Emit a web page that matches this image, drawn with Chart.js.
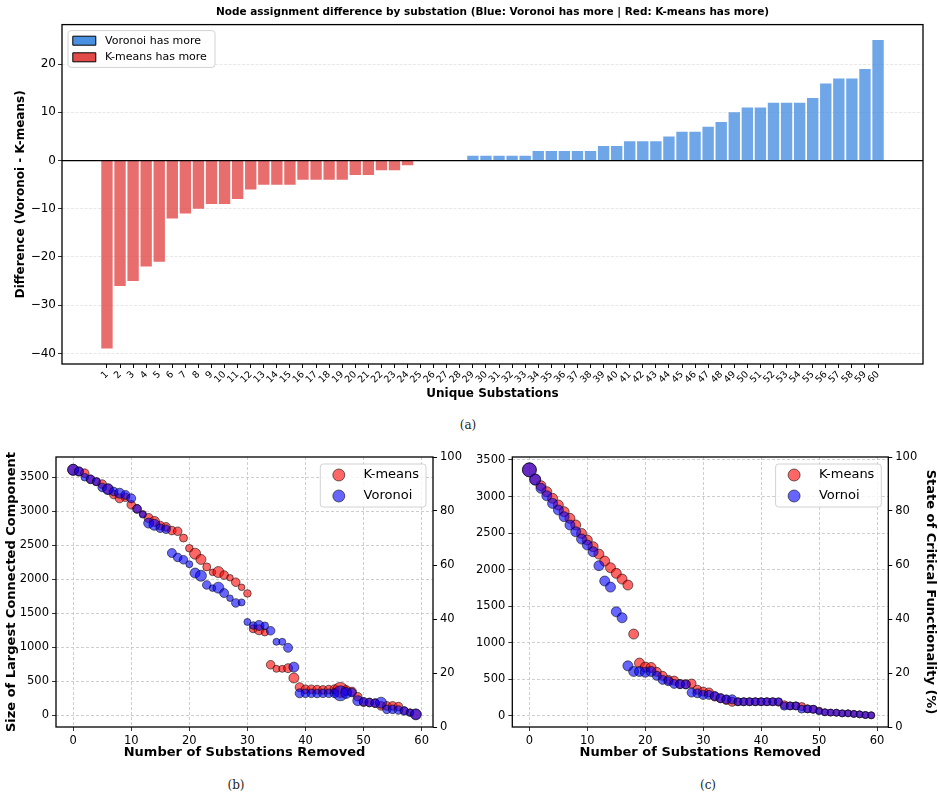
<!DOCTYPE html>
<html>
<head>
<meta charset="utf-8">
<script src="https://cdn.jsdelivr.net/npm/chart.js@4.4.1/dist/chart.umd.min.js"></script>
<style>
  body { margin: 0; background: #fff; width: 938px; height: 799px; position: relative; overflow: hidden; }
  canvas { position: absolute; }
  #chartA { left: 0; top: 0; }
  #chartB { left: 0; top: 440px; }
  #chartC { left: 469px; top: 440px; }
  .caption { position: absolute; font-family: "DejaVu Serif", "Liberation Serif", serif; font-size: 12px; color: #222; transform: translate(-50%, -50%); }
</style>
</head>
<body>
<canvas id="chartA" width="938" height="405"></canvas>
<div class="caption" style="left:468px; top:425px">(a)</div>
<canvas id="chartB" width="469" height="330"></canvas>
<canvas id="chartC" width="469" height="330"></canvas>
<div class="caption" style="left:236px; top:785px">(b)</div>
<div class="caption" style="left:708px; top:785px">(c)</div>
<script>
Chart.defaults.font.family = '"DejaVu Sans", sans-serif';
Chart.defaults.color = '#000';

// (a) difference in assigned nodes per substation
const substations = Array.from({ length: 60 }, (_, i) => i + 1);
const nodeDiff = [-39, -26, -25, -22, -21, -12, -11, -10, -9, -9, -8, -6, -5, -5, -5, -4, -4, -4, -4, -3,
                  -3, -2, -2, -1, 0, 0, 0, 0, 1, 1, 1, 1, 1, 2, 2, 2, 2, 2, 3, 3,
                  4, 4, 4, 5, 6, 6, 7, 8, 10, 11, 11, 12, 12, 12, 13, 16, 17, 17, 19, 25];
const diffTicks = [-40, -30, -20, -10, 0, 10, 20];

// (b) size of largest connected component
const removedSteps = Array.from({ length: 60 }, (_, i) => i);
const lccKmeans = [3610, 3585, 3560, 3470, 3435, 3400, 3325, 3245, 3190, 3205,
                   3095, 3035, 2960, 2900, 2850, 2790, 2770, 2715, 2705, 2605,
                   2455, 2375, 2290, 2180, 2100, 2105, 2060, 2020, 1955, 1880,
                   1790, 1270, 1255, 1215, 740, 680, 680, 690, 545, 410,
                   380, 380, 375, 370, 375, 380, 370, 360, 345, 270,
                   190, 185, 175, 135, 135, 135, 125, 65, 40, 10];
const lccKmeansSize = [5.5, 4.5, 4.3, 4.3, 4, 4.3, 5, 4.3, 4.5, 4.3,
                       4.3, 4.3, 3.5, 4.5, 5, 4.3, 4.3, 4.3, 4.3, 4,
                       3.8, 5.5, 5, 4, 3.3, 5.5, 4.3, 3.3, 4.3, 3.3,
                       3.8, 4, 5, 3.5, 4.3, 3.5, 3.5, 4.5, 5, 4.5,
                       4.3, 4.3, 4.3, 4.3, 4.3, 4.5, 7.5, 5, 4.5, 4.3,
                       4.3, 4.3, 4.3, 4.3, 4.3, 4.3, 4.3, 3.8, 3.5, 5];
const lccVoronoi = [3610, 3585, 3500, 3470, 3435, 3350, 3325, 3290, 3265, 3240,
                    3190, 3035, 2950, 2825, 2800, 2750, 2735, 2385, 2320, 2285,
                    2220, 2090, 2050, 1915, 1868, 1875, 1795, 1720, 1650, 1658,
                    1370, 1318, 1318, 1314, 1240, 1078, 1078, 990, 705, 320,
                    320, 320, 318, 320, 320, 322, 320, 325, 330, 212,
                    195, 185, 175, 182, 84, 84, 74, 60, 34, 10];
const lccVoronoiSize = [5.5, 4.5, 3.8, 4.3, 4, 4.3, 5.5, 4.3, 5, 4.5,
                        4.5, 4.3, 3.5, 5, 5.5, 4.3, 4.3, 4.5, 4.3, 4.3,
                        3.5, 5, 5.5, 4.3, 3.3, 5.5, 4.5, 3.3, 4.3, 3.5,
                        3.5, 3.8, 5, 3.8, 4.3, 3.5, 3.5, 4.5, 5, 4.5,
                        4.3, 4.3, 4.3, 4.3, 4.3, 4.5, 7.5, 5.5, 4.3, 5,
                        4.3, 4.3, 4.3, 5.5, 4.3, 4.3, 4.3, 4.3, 3.8, 5.5];

// (c) state of critical functionality
const cfKmeans = [3365, 3235, 3148, 3066, 2975, 2884, 2792, 2701, 2610, 2495,
                  2404, 2313, 2212, 2116, 2025, 1948, 1870, 1788, 1117, 720,
                  665, 660, 600, 545, 490, 480, 435, 430, 440, 355,
                  330, 318, 262, 240, 215, 190, 190, 190, 190, 190,
                  190, 190, 190, 185, 150, 135, 135, 125, 95, 88,
                  70, 48, 42, 40, 34, 32, 25, 18, 10, 5];
const cfKmeansSize = [7, 5.5, 5, 5, 5, 5, 5, 5, 5, 5,
                      5, 5, 5, 5, 5, 5, 5, 5, 5, 5,
                      5, 5, 4.5, 4.5, 4.5, 4.5, 4.5, 4.5, 4.5, 4.5,
                      4.5, 4.5, 4.5, 4.5, 4.5, 4.5, 4, 4, 4, 4,
                      4, 4, 4, 4, 4, 4, 4, 4, 4, 4,
                      3.5, 3.5, 3.5, 3.5, 3.5, 3.5, 3.5, 3.5, 3.5, 3.5];
const cfVoronoi = [3365, 3230, 3112, 3011, 2906, 2815, 2724, 2610, 2518, 2418,
                   2336, 2244, 2053, 1843, 1760, 1422, 1340, 682, 605, 605,
                   595, 605, 545, 490, 472, 435, 430, 428, 316, 307,
                   284, 284, 270, 238, 224, 224, 192, 192, 192, 192,
                   192, 192, 192, 192, 130, 133, 133, 90, 92, 87,
                   60, 46, 42, 41, 30, 32, 23, 18, 9, 5];
const cfVoronoiSize = [7, 5.5, 5, 5, 5, 5, 5, 5, 5, 5,
                       5, 5, 5, 5, 5, 5, 5, 5, 5, 5,
                       5, 5, 4.5, 4.5, 4.5, 4.5, 4.5, 4.5, 4.5, 4.5,
                       4.5, 4.5, 4.5, 4.5, 4.5, 4.5, 4, 4, 4, 4,
                       4, 4, 4, 4, 4, 4, 4, 4, 4, 4,
                       3.5, 3.5, 3.5, 3.5, 3.5, 3.5, 3.5, 3.5, 3.5, 3.5];

const stepTicks = [0, 10, 20, 30, 40, 50, 60];
const countTicks = [0, 500, 1000, 1500, 2000, 2500, 3000, 3500];
const pctTicks = [0, 20, 40, 60, 80, 100];

const RED = 'rgba(255, 0, 0, 0.6)';
const BLUE = 'rgba(0, 0, 255, 0.6)';
const EDGE = 'rgba(0, 0, 0, 0.55)';

const fixTicks = values => scale => { scale.ticks = values.map(v => ({ value: v })); };
const minusFmt = v => v < 0 ? '\u2212' + Math.abs(v) : String(v);

// black box round the plot area
const axesFrame = {
    id: 'axesFrame',
    afterDatasetsDraw(chart) {
        const { ctx, chartArea: a } = chart;
        ctx.save();
        ctx.strokeStyle = '#000';
        ctx.lineWidth = 1.3;
        ctx.strokeRect(a.left, a.top, a.right - a.left, a.bottom - a.top);
        ctx.restore();
    }
};

const zeroLine = {
    id: 'zeroLine',
    afterDatasetsDraw(chart) {
        const { ctx, chartArea: a, scales } = chart;
        const y = scales.y.getPixelForValue(0);
        ctx.save();
        ctx.strokeStyle = '#000';
        ctx.lineWidth = 1.2;
        ctx.beginPath();
        ctx.moveTo(a.left, y);
        ctx.lineTo(a.right, y);
        ctx.stroke();
        ctx.restore();
    }
};

// legend in a framed box inside the plot, like matplotlib's
const boxLegend = {
    id: 'boxLegend',
    afterDatasetsDraw(chart, args, opts) {
        const { ctx, chartArea: area } = chart;
        const sets = chart.data.datasets;
        const x0 = opts.side === 'left' ? area.left + opts.inset : area.right - opts.inset - opts.width;
        const y0 = area.top + opts.inset;
        const h = opts.padY * 2 + opts.rowHeight * sets.length;
        ctx.save();
        ctx.beginPath();
        if (ctx.roundRect) ctx.roundRect(x0, y0, opts.width, h, 3);
        else ctx.rect(x0, y0, opts.width, h);
        ctx.fillStyle = 'rgba(255,255,255,0.8)';
        ctx.fill();
        ctx.strokeStyle = '#d2d2d2';
        ctx.lineWidth = 1;
        ctx.stroke();
        ctx.font = opts.fontSize + 'px "DejaVu Sans"';
        ctx.textBaseline = 'middle';
        ctx.textAlign = 'left';
        sets.forEach((ds, i) => {
            const cy = y0 + opts.padY + opts.rowHeight * (i + 0.5);
            const mx = x0 + opts.markerX;
            ctx.beginPath();
            if (opts.marker === 'rect') {
                ctx.rect(mx - 11.5, cy - 4.5, 23, 9);
                ctx.fillStyle = ds.legendColor;
                ctx.fill();
                ctx.strokeStyle = '#000';
            } else {
                ctx.arc(mx, cy, 6, 0, Math.PI * 2);
                ctx.fillStyle = ds.backgroundColor;
                ctx.fill();
                ctx.strokeStyle = ds.borderColor;
            }
            ctx.lineWidth = 1;
            ctx.stroke();
            ctx.fillStyle = '#000';
            ctx.fillText(ds.label, x0 + opts.textX, cy);
        });
        ctx.restore();
    }
};

const diffPoints = substations.map((s, i) => ({ x: s, y: nodeDiff[i] }));

new Chart(document.getElementById('chartA'), {
    type: 'bar',
    data: {
        datasets: [{
            label: 'Voronoi has more',
            data: diffPoints.filter(p => p.y >= 0),
            backgroundColor: 'rgba(74, 144, 226, 0.8)',
            legendColor: '#4a90e2',
            grouped: false,
            barPercentage: 0.87,
            categoryPercentage: 1
        }, {
            label: 'K-means has more',
            data: diffPoints.filter(p => p.y < 0),
            backgroundColor: 'rgba(226, 74, 74, 0.8)',
            legendColor: '#e24a4a',
            grouped: false,
            barPercentage: 0.87,
            categoryPercentage: 1
        }]
    },
    options: {
        responsive: false,
        animation: false,
        events: [],
        layout: { padding: { left: 0, right: 15, top: 0, bottom: 0 } },
        plugins: {
            legend: { display: false },
            tooltip: { enabled: false },
            title: {
                display: true,
                fullSize: false,
                text: 'Node assignment difference by substation (Blue: Voronoi has more | Red: K-means has more)',
                font: { size: 10.5, weight: 'bold' },
                padding: { top: 6, bottom: 6 }
            },
            boxLegend: { side: 'left', inset: 6, width: 147, padY: 1.8, rowHeight: 16.6, marker: 'rect', markerX: 16.3, textX: 37, fontSize: 11 }
        },
        scales: {
            x: {
                type: 'linear',
                min: -2.44,
                max: 63.44,
                offset: false,
                afterBuildTicks: fixTicks(substations),
                afterFit: s => { s.height = 41; },
                grid: { drawOnChartArea: false, offset: false, tickColor: '#000', tickLength: 4 },
                border: { display: false },
                ticks: { autoSkip: false, minRotation: 45, maxRotation: 45, font: { size: 9.5 }, padding: 1, callback: v => String(v) },
                title: { display: true, text: 'Unique Substations', font: { size: 12, weight: 'bold' }, padding: { top: 0, bottom: 4 } }
            },
            y: {
                min: -42.2,
                max: 28.2,
                afterBuildTicks: fixTicks(diffTicks),
                afterFit: s => { s.width = 62; },
                grid: { color: '#e2e2e2', lineWidth: 0.8, tickColor: '#000', tickLength: 4 },
                border: { display: false, dash: [3, 1.5] },
                ticks: { font: { size: 12 }, padding: 2, callback: minusFmt },
                title: { display: true, text: 'Difference (Voronoi - K-means)', font: { size: 12, weight: 'bold' }, padding: { top: 14, bottom: 0 } }
            }
        }
    },
    plugins: [zeroLine, axesFrame, boxLegend]
});

function lossChart(canvasId, kmeans, kmeansSize, voronoi, voronoiSize, voronoiLabel, cfg) {
    const pts = vals => removedSteps.map((n, i) => ({ x: n, y: vals[i] }));
    const tickFont = { size: 11.5 };
    return new Chart(document.getElementById(canvasId), {
        type: 'scatter',
        data: {
            datasets: [{
                label: 'K-means',
                data: pts(kmeans),
                pointRadius: kmeansSize,
                backgroundColor: RED,
                borderColor: EDGE,
                borderWidth: 1,
                order: 1
            }, {
                label: voronoiLabel,
                data: pts(voronoi),
                pointRadius: voronoiSize,
                backgroundColor: BLUE,
                borderColor: EDGE,
                borderWidth: 1,
                order: 0
            }]
        },
        options: {
            responsive: false,
            animation: false,
            events: [],
            layout: { padding: { left: 0, right: 0, top: 17, bottom: 0 } },
            plugins: {
                legend: { display: false },
                tooltip: { enabled: false },
                boxLegend: { side: 'right', inset: 7, width: 105.7, padY: 0.5, rowHeight: 21, marker: 'circle', markerX: 18.5, textX: 43.3, fontSize: 13 }
            },
            scales: {
                x: {
                    type: 'linear',
                    min: -2.95,
                    max: 61.95,
                    afterBuildTicks: fixTicks(stepTicks),
                    afterFit: s => { s.height = 43; },
                    grid: { color: '#c2c2c2', lineWidth: 0.8, tickColor: '#000', tickLength: 4 },
                    border: { display: false, dash: [3, 2] },
                    ticks: { font: tickFont, padding: 3, maxRotation: 0, callback: v => String(v) },
                    title: { display: true, text: 'Number of Substations Removed', font: { size: 13, weight: 'bold' }, padding: { top: 0, bottom: 10 } }
                },
                y: {
                    min: cfg.yMin,
                    max: cfg.yMax,
                    afterBuildTicks: fixTicks(countTicks),
                    afterFit: s => { s.width = cfg.yWidth; },
                    grid: { color: '#c2c2c2', lineWidth: 0.8, tickColor: '#000', tickLength: 4 },
                    border: { display: false, dash: [3, 2] },
                    ticks: { font: tickFont, padding: 3, callback: v => String(v) },
                    title: { display: !!cfg.yTitle, text: cfg.yTitle || '', font: { size: 13, weight: 'bold' }, padding: { top: 4, bottom: 0 } }
                },
                y1: {
                    position: 'right',
                    min: 0,
                    max: 100,
                    afterBuildTicks: fixTicks(pctTicks),
                    afterFit: s => { s.width = cfg.y1Width; },
                    grid: { drawOnChartArea: false, tickColor: '#000', tickLength: 4 },
                    border: { display: false },
                    ticks: { font: tickFont, padding: 3, callback: v => String(v) },
                    title: { display: !!cfg.y1Title, text: cfg.y1Title || '', font: { size: 13, weight: 'bold' }, padding: { top: 0, bottom: 0 } }
                }
            }
        },
        plugins: [axesFrame, boxLegend]
    });
}

lossChart('chartB', lccKmeans, lccKmeansSize, lccVoronoi, lccVoronoiSize, 'Voronoi', {
    yMin: -176, yMax: 3798, yWidth: 56, y1Width: 36, yTitle: 'Size of Largest Connected Component'
});

lossChart('chartC', cfKmeans, cfKmeansSize, cfVoronoi, cfVoronoiSize, 'Vornoi', {
    yMin: -155, yMax: 3541, yWidth: 43.3, y1Width: 49.7, y1Title: 'State of Critical Functionality (%)'
});
</script>
</body>
</html>
